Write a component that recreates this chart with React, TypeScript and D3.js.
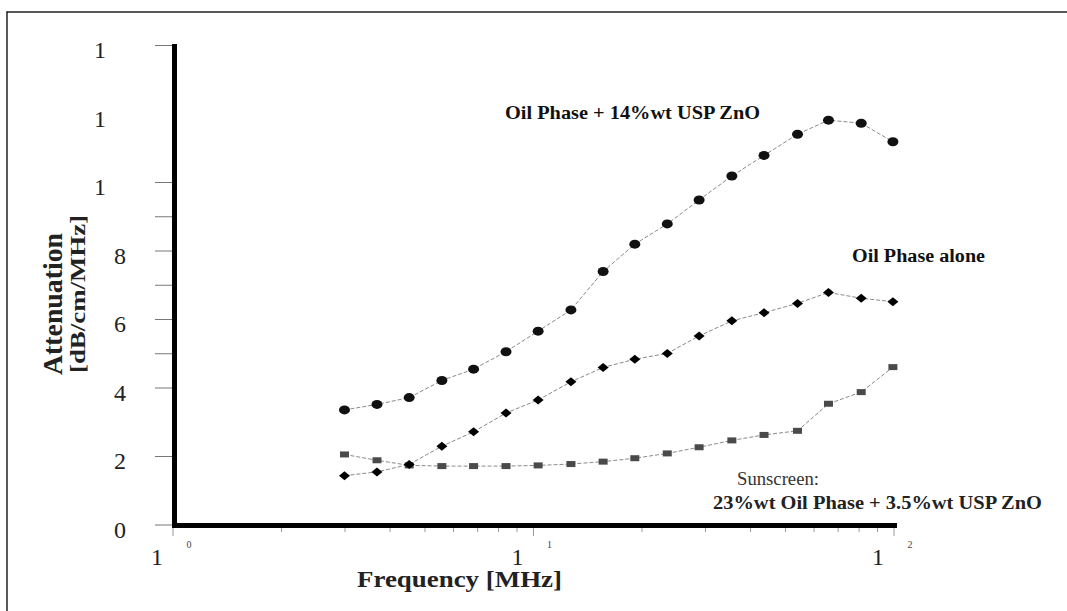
import React from "react";
import * as d3 from "d3";

const freqMHz = [2.99, 3.68, 4.52, 5.57, 6.82, 8.39, 10.3, 12.7, 15.6, 19.1, 23.5, 28.8, 35.5, 43.6, 54.0, 65.8, 81.1, 99.3];
const oilZnO14 = [3.36, 3.52, 3.72, 4.22, 4.55, 5.06, 5.66, 6.28, 7.40, 8.20, 8.79, 9.49, 10.19, 10.79, 11.41, 11.82, 11.73, 11.19];
const oilAlone = [1.44, 1.55, 1.77, 2.30, 2.72, 3.27, 3.65, 4.18, 4.60, 4.84, 5.01, 5.52, 5.96, 6.20, 6.47, 6.79, 6.62, 6.52];
const sunscreen = [2.06, 1.89, 1.74, 1.72, 1.72, 1.72, 1.74, 1.78, 1.85, 1.95, 2.09, 2.27, 2.47, 2.63, 2.75, 3.54, 3.88, 4.61];

const yTickValues = [0, 2, 4, 6, 8, 10, 12, 14];
const yTickLabels = ["0", "2", "4", "6", "8", "1", "1", "1"];
const yTickMarks = [0, 2, 4, 5, 6, 7, 8, 9, 10, 14];
const xMajorValues = [1, 10, 100];
const xMajorMantissa = ["1", "1", "1"];
const xMajorExponent = ["0", "1", "2"];
const xMinorValues = [2, 3, 4, 5, 6, 7, 8, 9, 20, 30, 40, 50, 60, 70, 80, 90];

const serif = "'Liberation Serif', 'DejaVu Serif', serif";

export default function App() {
  const W = 1067, H = 611;
  const x = d3.scaleLog().domain([1, 100]).range([173, 894]);
  const y = d3.scaleLinear().domain([0, 14]).range([525, 45.5]);
  const mk = (vals: number[]) =>
    d3.line<number>().x((_, i) => x(freqMHz[i])).y((v) => y(v))(vals) || "";

  const lineStyle = { fill: "none", stroke: "#8a8a8a", strokeWidth: 1, strokeDasharray: "4 2" };

  return (
    <svg width={W} height={H} style={{ position: "absolute", left: 0, top: 0, background: "#fff" }} fontFamily={serif}>
      {/* frame */}
      <line x1={6.5} y1={12} x2={1067} y2={12} stroke="#222" strokeWidth={1.5} />
      <line x1={7} y1={11.5} x2={7} y2={611} stroke="#222" strokeWidth={1.5} />

      {/* y tick marks */}
      {yTickMarks.map((v) => (
        <line key={"yt" + v} x1={155} x2={173} y1={y(v)} y2={y(v)} stroke="#777" strokeWidth={1} />
      ))}
      {/* x minor ticks */}
      {xMinorValues.map((v) => (
        <line key={"xm" + v} x1={x(v)} x2={x(v)} y1={527} y2={532} stroke="#999" strokeWidth={1} />
      ))}
      {xMajorValues.map((v) => (
        <line key={"xM" + v} x1={x(v)} x2={x(v)} y1={527} y2={536} stroke="#999" strokeWidth={1} />
      ))}

      {/* axes */}
      <line x1={174.5} x2={174.5} y1={44} y2={528} stroke="#000" strokeWidth={5} />
      <line x1={172} x2={897} y1={525.5} y2={525.5} stroke="#000" strokeWidth={5} />

      {/* y tick labels */}
      {yTickValues.map((v, i) => (
        <text key={"yl" + v} x={yTickLabels[i] === "1" ? 100 : 120} y={y(v) + 12.5} fontSize={24} textAnchor="middle" fill="#222">
          {yTickLabels[i]}
        </text>
      ))}

      {/* x tick labels */}
      {xMajorValues.map((v, i) => (
        <g key={"xl" + v}>
          <text x={x(v) - 16} y={565} fontSize={24} textAnchor="middle" fill="#222">{xMajorMantissa[i]}</text>
          <text x={x(v) + 16} y={548} fontSize={10} textAnchor="middle" fill="#444">{xMajorExponent[i]}</text>
        </g>
      ))}

      {/* axis titles */}
      <text x={357} y={587} fontSize={23} fontWeight="bold" textLength={205} lengthAdjust="spacingAndGlyphs" fill="#222">
        Frequency [MHz]
      </text>
      <text transform="translate(62,375) rotate(-90)" fontSize={27} fontWeight="bold" textLength={142} lengthAdjust="spacingAndGlyphs" fill="#222">
        Attenuation
      </text>
      <text transform="translate(85,373) rotate(-90)" fontSize={20} fontWeight="bold" textLength={158} lengthAdjust="spacingAndGlyphs" fill="#222">
        [dB/cm/MHz]
      </text>

      {/* lines */}
      <path d={mk(sunscreen)} style={lineStyle} />
      <path d={mk(oilAlone)} style={lineStyle} />
      <path d={mk(oilZnO14)} style={lineStyle} />

      {/* markers */}
      {sunscreen.map((v, i) => (
        <rect key={"s" + i} x={x(freqMHz[i]) - 4.5} y={y(v) - 3} width={9} height={6} fill="#4a4a4a" />
      ))}
      {oilAlone.map((v, i) => {
        const cx = x(freqMHz[i]), cy = y(v);
        return <path key={"d" + i} d={`M${cx - 5.5},${cy} L${cx},${cy - 4.5} L${cx + 5.5},${cy} L${cx},${cy + 4.5} Z`} fill="#000" />;
      })}
      {oilZnO14.map((v, i) => (
        <ellipse key={"c" + i} cx={x(freqMHz[i])} cy={y(v)} rx={5.5} ry={4.5} fill="#111" />
      ))}

      {/* series labels */}
      <text x={505} y={119} fontSize={19} fontWeight="bold" textLength={255} lengthAdjust="spacingAndGlyphs" fill="#111">
        Oil Phase + 14%wt USP ZnO
      </text>
      <text x={852} y={262} fontSize={18.5} fontWeight="bold" textLength={133} lengthAdjust="spacingAndGlyphs" fill="#111">
        Oil Phase alone
      </text>
      <text x={737} y={485} fontSize={18} fill="#333" textLength={82} lengthAdjust="spacingAndGlyphs">
        Sunscreen:
      </text>
      <text x={713} y={509} fontSize={19} fontWeight="bold" textLength={329} lengthAdjust="spacingAndGlyphs" fill="#222">
        23%wt Oil Phase + 3.5%wt USP ZnO
      </text>
    </svg>
  );
}
